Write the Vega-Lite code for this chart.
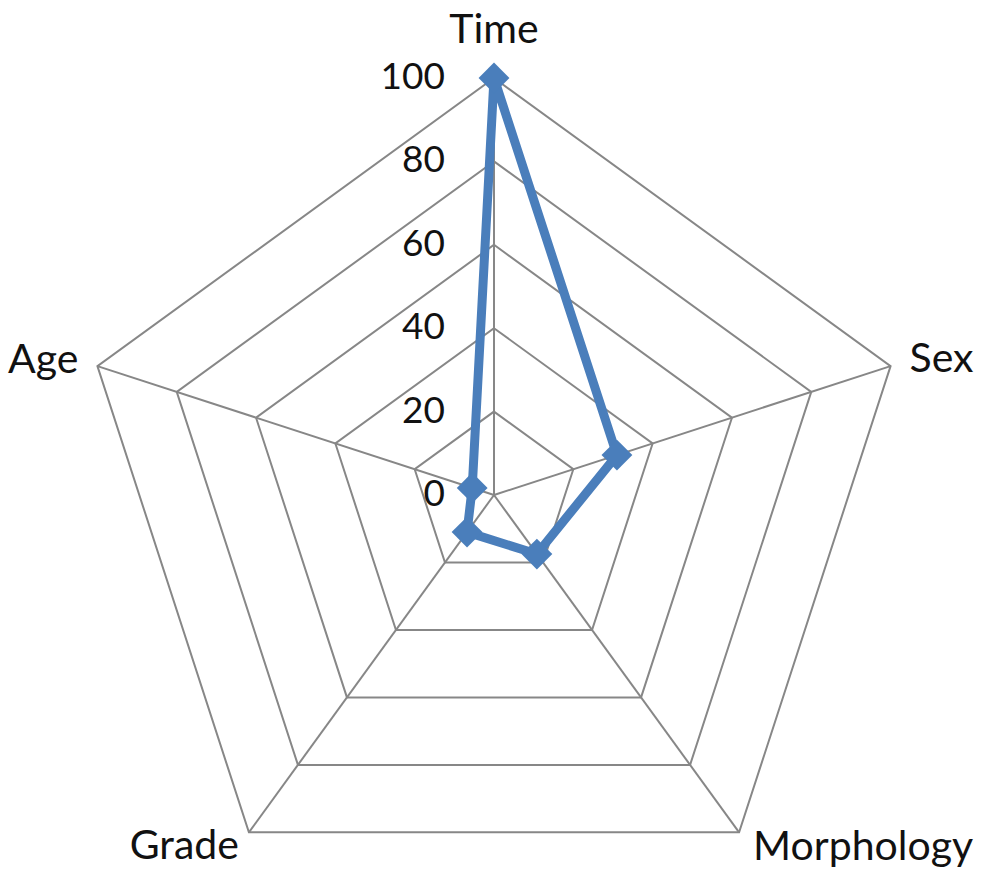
{
  "$schema": "https://vega.github.io/schema/vega-lite/v6.json",
  "width": 985,
  "height": 873,
  "autosize": {"type": "none"},
  "padding": 0,
  "background": "white",
  "config": {"view": {"stroke": null}},
  "datasets": {
    "axes": [
      {"name": "Time", "k": 0, "value": 100},
      {"name": "Sex", "k": 1, "value": 31},
      {"name": "Morphology", "k": 2, "value": 17.5},
      {"name": "Grade", "k": 3, "value": 11},
      {"name": "Age", "k": 4, "value": 5.5}
    ],
    "grid": [
      {"level": 20, "k": 0}, {"level": 20, "k": 1}, {"level": 20, "k": 2}, {"level": 20, "k": 3}, {"level": 20, "k": 4},
      {"level": 40, "k": 0}, {"level": 40, "k": 1}, {"level": 40, "k": 2}, {"level": 40, "k": 3}, {"level": 40, "k": 4},
      {"level": 60, "k": 0}, {"level": 60, "k": 1}, {"level": 60, "k": 2}, {"level": 60, "k": 3}, {"level": 60, "k": 4},
      {"level": 80, "k": 0}, {"level": 80, "k": 1}, {"level": 80, "k": 2}, {"level": 80, "k": 3}, {"level": 80, "k": 4},
      {"level": 100, "k": 0}, {"level": 100, "k": 1}, {"level": 100, "k": 2}, {"level": 100, "k": 3}, {"level": 100, "k": 4}
    ],
    "ticks": [
      {"tick": 0}, {"tick": 20}, {"tick": 40}, {"tick": 60}, {"tick": 80}, {"tick": 100}
    ]
  },
  "layer": [
    {
      "data": {"name": "grid"},
      "transform": [
        {"calculate": "datum.level * sin(datum.k * 2 * PI / 5)", "as": "gx"},
        {"calculate": "datum.level * cos(datum.k * 2 * PI / 5)", "as": "gy"}
      ],
      "mark": {"type": "line", "interpolate": "linear-closed", "stroke": "#878787", "strokeWidth": 2},
      "encoding": {
        "x": {"field": "gx", "type": "quantitative", "scale": {"domain": [-118.47, 117.75], "nice": false, "zero": false}, "axis": null},
        "y": {"field": "gy", "type": "quantitative", "scale": {"domain": [-90.65, 118.71], "nice": false, "zero": false}, "axis": null},
        "detail": {"field": "level", "type": "nominal"},
        "order": {"field": "k", "type": "quantitative"}
      }
    },
    {
      "data": {"name": "axes"},
      "transform": [
        {"calculate": "0", "as": "cx"},
        {"calculate": "100 * sin(datum.k * 2 * PI / 5)", "as": "ex"},
        {"calculate": "100 * cos(datum.k * 2 * PI / 5)", "as": "ey"}
      ],
      "mark": {"type": "rule", "stroke": "#878787", "strokeWidth": 2},
      "encoding": {
        "x": {"field": "cx", "type": "quantitative"},
        "y": {"field": "cx", "type": "quantitative"},
        "x2": {"field": "ex"},
        "y2": {"field": "ey"}
      }
    },
    {
      "data": {"name": "axes"},
      "transform": [
        {"calculate": "datum.value * sin(datum.k * 2 * PI / 5)", "as": "px"},
        {"calculate": "datum.value * cos(datum.k * 2 * PI / 5)", "as": "py"}
      ],
      "mark": {"type": "line", "interpolate": "linear-closed", "stroke": "#4A7EBB", "strokeWidth": 9, "strokeJoin": "round"},
      "encoding": {
        "x": {"field": "px", "type": "quantitative"},
        "y": {"field": "py", "type": "quantitative"},
        "order": {"field": "k", "type": "quantitative"}
      }
    },
    {
      "data": {"name": "axes"},
      "transform": [
        {"calculate": "datum.value * sin(datum.k * 2 * PI / 5)", "as": "px"},
        {"calculate": "datum.value * cos(datum.k * 2 * PI / 5)", "as": "py"}
      ],
      "mark": {"type": "point", "shape": "diamond", "filled": true, "size": 950, "color": "#4A7EBB", "opacity": 1},
      "encoding": {
        "x": {"field": "px", "type": "quantitative"},
        "y": {"field": "py", "type": "quantitative"}
      }
    },
    {
      "data": {"name": "ticks"},
      "transform": [{"calculate": "0", "as": "cx"}],
      "mark": {"type": "text", "align": "right", "baseline": "middle", "dx": -49, "font": "Lato", "fontSize": 37, "color": "#111111"},
      "encoding": {
        "x": {"field": "cx", "type": "quantitative"},
        "y": {"field": "tick", "type": "quantitative"},
        "text": {"field": "tick", "type": "quantitative"}
      }
    },
    {
      "data": {"name": "axes"},
      "transform": [
        {"filter": "datum.name === 'Time'"},
        {"calculate": "100 * sin(datum.k * 2 * PI / 5)", "as": "ex"},
        {"calculate": "100 * cos(datum.k * 2 * PI / 5)", "as": "ey"}
      ],
      "mark": {"type": "text", "align": "center", "baseline": "alphabetic", "dy": -35, "font": "Lato", "fontSize": 41, "color": "#111111"},
      "encoding": {
        "x": {"field": "ex", "type": "quantitative"},
        "y": {"field": "ey", "type": "quantitative"},
        "text": {"field": "name"}
      }
    },
    {
      "data": {"name": "axes"},
      "transform": [
        {"filter": "datum.name === 'Sex'"},
        {"calculate": "100 * sin(datum.k * 2 * PI / 5)", "as": "ex"},
        {"calculate": "100 * cos(datum.k * 2 * PI / 5)", "as": "ey"}
      ],
      "mark": {"type": "text", "align": "left", "baseline": "alphabetic", "dx": 19, "dy": 6, "font": "Lato", "fontSize": 41, "color": "#111111"},
      "encoding": {
        "x": {"field": "ex", "type": "quantitative"},
        "y": {"field": "ey", "type": "quantitative"},
        "text": {"field": "name"}
      }
    },
    {
      "data": {"name": "axes"},
      "transform": [
        {"filter": "datum.name === 'Morphology'"},
        {"calculate": "100 * sin(datum.k * 2 * PI / 5)", "as": "ex"},
        {"calculate": "100 * cos(datum.k * 2 * PI / 5)", "as": "ey"}
      ],
      "mark": {"type": "text", "align": "left", "baseline": "alphabetic", "dx": 14, "dy": 28, "font": "Lato", "fontSize": 41, "color": "#111111"},
      "encoding": {
        "x": {"field": "ex", "type": "quantitative"},
        "y": {"field": "ey", "type": "quantitative"},
        "text": {"field": "name"}
      }
    },
    {
      "data": {"name": "axes"},
      "transform": [
        {"filter": "datum.name === 'Grade'"},
        {"calculate": "100 * sin(datum.k * 2 * PI / 5)", "as": "ex"},
        {"calculate": "100 * cos(datum.k * 2 * PI / 5)", "as": "ey"}
      ],
      "mark": {"type": "text", "align": "right", "baseline": "alphabetic", "dx": -10, "dy": 27, "font": "Lato", "fontSize": 41, "color": "#111111"},
      "encoding": {
        "x": {"field": "ex", "type": "quantitative"},
        "y": {"field": "ey", "type": "quantitative"},
        "text": {"field": "name"}
      }
    },
    {
      "data": {"name": "axes"},
      "transform": [
        {"filter": "datum.name === 'Age'"},
        {"calculate": "100 * sin(datum.k * 2 * PI / 5)", "as": "ex"},
        {"calculate": "100 * cos(datum.k * 2 * PI / 5)", "as": "ey"}
      ],
      "mark": {"type": "text", "align": "right", "baseline": "alphabetic", "dx": -19, "dy": 7, "font": "Lato", "fontSize": 41, "color": "#111111"},
      "encoding": {
        "x": {"field": "ex", "type": "quantitative"},
        "y": {"field": "ey", "type": "quantitative"},
        "text": {"field": "name"}
      }
    }
  ]
}
